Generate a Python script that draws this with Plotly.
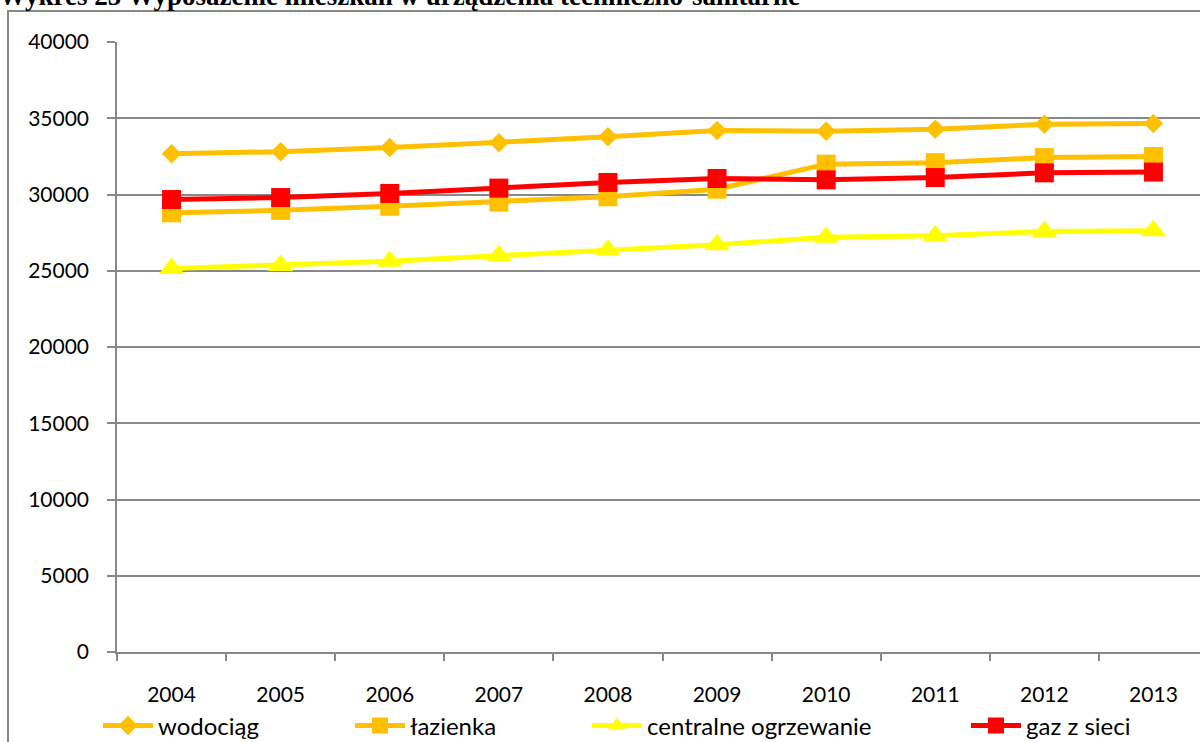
import plotly.graph_objects as go

years = ["2004", "2005", "2006", "2007", "2008", "2009", "2010", "2011", "2012", "2013"]
wodociag = [32680, 32810, 33080, 33400, 33780, 34190, 34150, 34280, 34610, 34650]
lazienka = [28800, 28960, 29230, 29500, 29850, 30350, 31990, 32090, 32420, 32490]
centralne = [25150, 25350, 25620, 25990, 26360, 26710, 27190, 27300, 27580, 27620]
gaz = [29670, 29800, 30070, 30420, 30790, 31050, 30960, 31110, 31420, 31470]
y_ticks = [0, 5000, 10000, 15000, 20000, 25000, 30000, 35000, 40000]

title_text = "Wykres 25 Wyposażenie mieszkań w urządzenia techniczno-sanitarne"

ORANGE = "#FFC000"
YELLOW = "#FFFF00"
RED = "#FF0000"
FONT = "Lato"

fig = go.Figure()
series = [
    ("wodociąg", wodociag, ORANGE, "diamond", 15, "legend"),
    ("łazienka", lazienka, ORANGE, "square", 19, "legend2"),
    ("centralne ogrzewanie", centralne, YELLOW, "triangle-up", 22, "legend3"),
    ("gaz z sieci", gaz, RED, "square", 19, "legend4"),
]
for name, vals, col, sym, size, leg in series:
    fig.add_trace(go.Scatter(
        x=years, y=vals, name=name, mode="lines+markers",
        line=dict(color=col, width=5),
        marker=dict(symbol=sym, size=size, color=col, line=dict(width=0)),
        legend=leg, cliponaxis=False,
    ))

L, T, B = 117, 42, 652
W, H = 1200, 742
pw = W - L
ph = B - T
cat_w = 109.1
xmax = -0.5 + pw / cat_w

def px_x(p):
    return (p - L) / pw

def px_y(p):
    return (B - p) / ph

leg_common = dict(orientation="h", yanchor="middle", xanchor="left",
                  font=dict(family=FONT, size=24, color="black"),
                  bgcolor="rgba(0,0,0,0)", itemwidth=50, tracegroupgap=0)
legx = [98, 350, 587, 966]
leg_y = px_y(726)
fig.update_layout(
    width=W, height=H,
    margin=dict(l=L, r=0, t=T, b=H - B, autoexpand=False),
    paper_bgcolor="white", plot_bgcolor="white",
    showlegend=True,
    legend=dict(x=px_x(legx[0]), y=leg_y, **leg_common),
    legend2=dict(x=px_x(legx[1]), y=leg_y, **leg_common),
    legend3=dict(x=px_x(legx[2]), y=leg_y, **leg_common),
    legend4=dict(x=px_x(legx[3]), y=leg_y, **leg_common),
    xaxis=dict(
        type="category", range=[-0.5, xmax], showgrid=False,
        tickson="boundaries", ticks="outside", ticklen=7, tickwidth=1.5,
        tickcolor="#888888", showline=True, linecolor="#888888", linewidth=1.5,
        tickfont=dict(family=FONT, size=21, color="black"),
        ticklabelstandoff=23, zeroline=False, automargin=False,
    ),
    yaxis=dict(
        range=[0, 40000], tickvals=y_ticks, ticktext=[str(v) for v in y_ticks],
        showgrid=True, gridcolor="#888888", gridwidth=1.5,
        ticks="outside", ticklen=8, tickwidth=1.5, tickcolor="#888888",
        showline=True, linecolor="#888888", linewidth=1.5,
        tickfont=dict(family=FONT, size=21, color="black"),
        ticklabelstandoff=14, zeroline=False, automargin=False,
    ),
    shapes=[dict(type="rect", xref="paper", yref="paper",
                 x0=px_x(8), x1=px_x(1260), y0=px_y(800), y1=px_y(11),
                 line=dict(color="#888888", width=2), fillcolor="rgba(0,0,0,0)",
                 layer="below")],
    annotations=[dict(text="<b>" + title_text + "</b>", xref="paper", yref="paper",
                      x=px_x(-3), y=px_y(13.5), xanchor="left", yanchor="bottom",
                      showarrow=False,
                      font=dict(family="Liberation Serif", size=27, color="black"))],
)

fig.write_html("out.html", config={"displayModeBar": False},
               post_script="document.body.style.margin='0';document.body.style.overflow='hidden';")
